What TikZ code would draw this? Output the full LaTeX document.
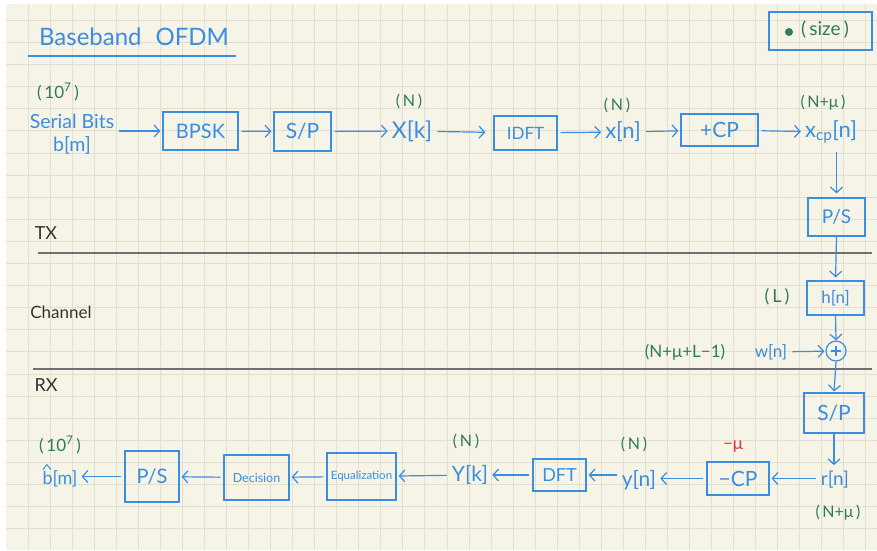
\documentclass[tikz,border=0pt]{standalone}
\usepackage{fontspec}
\setmainfont{Lato}
\usetikzlibrary{arrows.meta}
\definecolor{paper}{HTML}{F6F3E7}
\definecolor{gridc}{HTML}{E3DFD0}
\definecolor{pen}{HTML}{3A8DE0}
\definecolor{grn}{HTML}{2E7D55}
\definecolor{rd}{HTML}{D83A3A}
\definecolor{rulec}{HTML}{707070}
\newcommand{\fs}[1]{\fontsize{#1}{#1}\selectfont}
\tikzset{
  box/.style={draw=pen, line width=1.2pt, text=pen, inner sep=0pt},
  bl/.style={text=pen, inner sep=2pt},
  gn/.style={text=grn, inner sep=1pt, font=\fs{16}},
  bk/.style={text=black!80, inner sep=1pt, font=\fs{18}},
  arr/.style={draw=pen, line width=1.2pt, -{Straight Barb[length=5.5pt,width=12pt]}, shorten <=3pt, shorten >=2pt},
  sep/.style={draw=rulec, line width=1.4pt},
}
\begin{document}
\begin{tikzpicture}[x=1pt,y=-1pt]
\useasboundingbox (0,0) rectangle (877,550);
\fill[white] (0,0) rectangle (877,550);
\fill[paper] (6,4) rectangle (877,550);
\foreach \i in {1,...,39} \draw[gridc, line width=0.8pt] (6.3+22.03*\i,4) -- (6.3+22.03*\i,550);
\foreach \j in {1,...,24} \draw[gridc, line width=0.8pt] (6,-1.8+22.1*\j) -- (877,-1.8+22.1*\j);

% title
\node[bl, font=\fs{24}] (title) at (134,37) {Baseband\hspace{14pt}OFDM};
\draw[pen, line width=1.2pt] (28,56) -- (236,56);

% legend
\node[box, minimum width=103pt, minimum height=38pt] (legend) at (820.5,31) {};
\fill[grn] (789,32) circle (4);
\node[gn, font=\fs{19}] (legtxt) at (825,30) {(\,size\,)};

% separators
\draw[sep] (38,253) -- (872,253);
\draw[sep] (33,369) -- (872,369);
\node[bk] (tx) at (46,233) {TX};
\node[bk, font=\fs{17}] (ch) at (61,312) {Channel};
\node[bk] (rx) at (46,385) {RX};

% TX row
\node[gn, font=\fs{17}] (n1) at (58,92) {(\,10\textsuperscript{7}\,)};
\node[bl, font=\fs{19.5}, align=center] (src) at (72,134) {Serial Bits\\[3pt]b[m]};
\node[box, font=\fs{20}, minimum width=75pt, minimum height=38pt] (bpsk) at (200.5,131) {BPSK};
\node[box, font=\fs{21}, minimum width=57pt, minimum height=39pt] (sp1) at (302.5,131.5) {S/P};
\node[bl, font=\fs{23}] (Xk) at (412,131) {X[k]};
\node[gn] (n2) at (409,101) {(\,N\,)};
\node[box, font=\fs{17}, minimum width=63pt, minimum height=34pt] (idft) at (525.5,133) {IDFT};
\node[bl, font=\fs{22}] (xn) at (623,132) {x[n]};
\node[gn] (n3) at (617,105) {(\,N\,)};
\node[box, font=\fs{21}, minimum width=77pt, minimum height=32pt] (acp) at (719.5,130) {+CP};
\node[bl, font=\fs{22}] (xcp) at (831,132) {x\textsubscript{cp}[n]};
\node[gn] (n4) at (823,103) {(\,N+μ\,)};
\node[box, font=\fs{19}, minimum width=57pt, minimum height=38pt] (ps1) at (836.5,217) {P/S};

\draw[arr] (src.east |- bpsk) -- (bpsk.west);
\draw[arr] (bpsk) -- (sp1);
\draw[arr] (sp1) -- (Xk);
\draw[arr, shorten >=8pt] (Xk) -- (idft);
\draw[arr] (idft) -- (xn);
\draw[arr] (xn) -- (acp);
\draw[arr] (acp) -- (xcp);
\draw[arr, shorten <=6pt, shorten >=4pt] (xcp.south -| ps1) -- (ps1.north);

% channel
\node[box, font=\fs{17}, minimum width=57pt, minimum height=34pt] (hn) at (835.5,298) {h[n]};
\node[gn, font=\fs{18}] (n5) at (777,297) {(\,L\,)};
\node[draw=pen, line width=1.2pt, circle, minimum size=20pt, inner sep=0pt] (plus) at (836,351) {};
\draw[pen, line width=1.1pt] ([xshift=-5pt]plus.center) -- ([xshift=5pt]plus.center)
  ([yshift=-5pt]plus.center) -- ([yshift=5pt]plus.center);
\node[bl, font=\fs{17}] (wn) at (771,352) {w[n]};
\node[gn, font=\fs{17}] (n6) at (685,352) {(N+μ+L−1)};
\draw[arr, shorten <=0pt, shorten >=3pt] (ps1.south) -- (hn.north);
\draw[arr, shorten <=0pt, shorten >=0pt] (hn.south) -- (plus.north);
\draw[arr, shorten >=1pt] (wn) -- (plus);

% RX
\node[box, font=\fs{21}, minimum width=60pt, minimum height=40pt] (sp2) at (834,413) {S/P};
\draw[arr, shorten <=0pt, shorten >=1pt] (plus.south) -- (sp2.north);
\node[bl, font=\fs{19}] (rn) at (835,480) {r[n]};
\node[gn] (n7) at (838,513) {(\,N+μ\,)};
\draw[arr, shorten <=0pt, shorten >=4pt] (sp2.south) -- (sp2.south |- rn.north);
\node[box, font=\fs{21}, minimum width=62pt, minimum height=33pt] (rcp) at (738,478.5) {−CP};
\node[text=rd, inner sep=1pt, font=\fs{17}] (n8) at (733,447) {−μ};
\node[bl, font=\fs{21}] (yn) at (639,480) {y[n]};
\node[gn] (n9) at (634,444) {(\,N\,)};
\node[box, font=\fs{18}, minimum width=53pt, minimum height=32pt] (dft) at (559.5,475) {DFT};
\node[bl, font=\fs{21}] (Yk) at (470,475) {Y[k]};
\node[gn] (n10) at (466,441) {(\,N\,)};
\node[box, font=\fs{11.5}, minimum width=69pt, minimum height=47pt] (eq) at (361.5,476.5) {Equalization};
\node[box, font=\fs{12.5}, minimum width=65pt, minimum height=45pt] (dec) at (256.5,477.5) {Decision};
\node[box, font=\fs{20}, minimum width=54pt, minimum height=51pt] (ps3) at (152,476.5) {P/S};
\node[bl, font=\fs{18}] (bh) at (60,479) {b[m]};
\draw[pen, line width=1pt, line join=round] ([xshift=2.5pt,yshift=-1pt]bh.north west) -- ++(4,-5) -- ++(4,5);
\node[gn, font=\fs{17}] (n11) at (60,445) {(\,10\textsuperscript{7}\,)};

\draw[arr] (rn.west |- rcp) -- (rcp.east);
\draw[arr] (rcp.west) -- (rcp.west -| yn.east);
\draw[arr] (yn.west |- dft) -- (dft.east);
\draw[arr] (dft) -- (Yk);
\draw[arr] (Yk) -- (eq);
\draw[arr] (eq) -- (dec);
\draw[arr] (dec) -- (ps3);
\draw[arr] (ps3.west) -- (ps3.west -| bh.east);
\end{tikzpicture}
\end{document}
